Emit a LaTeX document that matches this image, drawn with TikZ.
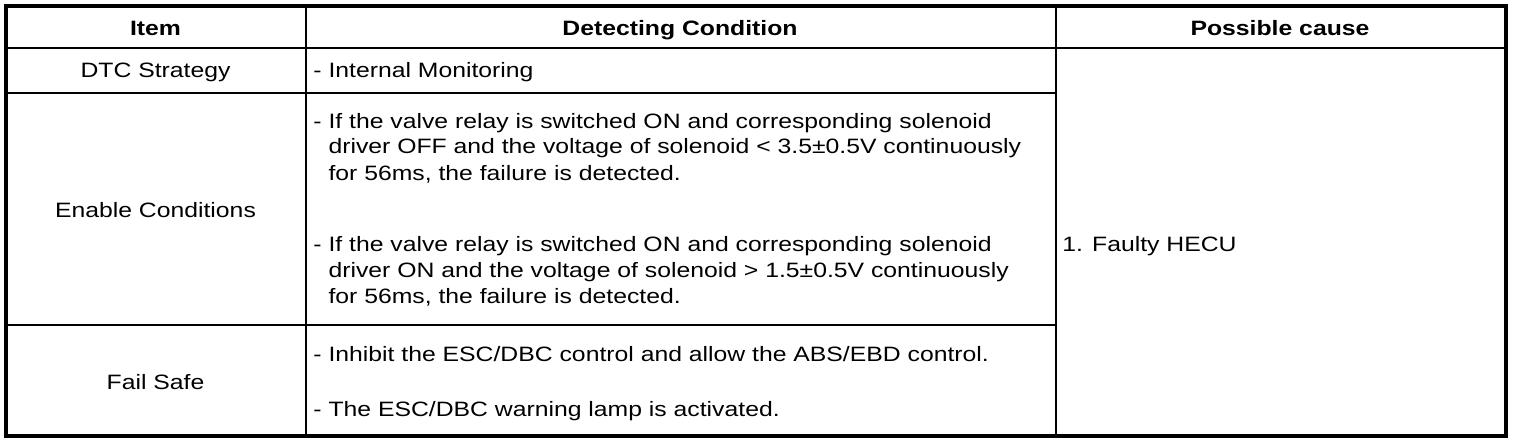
\documentclass[tikz,border=0pt]{standalone}
\usepackage{fontspec}
\setmainfont[FakeStretch=1.19]{Liberation Sans}
\newcommand{\tabfont}{\fontsize{10.4}{13}\selectfont}
\newcommand{\dashlines}[1]{-\ \begin{tabular}[t]{@{}l@{}}#1\end{tabular}}
\tikzstyle{head} = [anchor=base, font=\tabfont\bfseries]
\tikzstyle{item} = [anchor=base, font=\tabfont]
\tikzstyle{cond} = [anchor=base west, inner sep=0pt, font=\tabfont]
\tikzstyle{frame} = [line width=2pt]
\tikzstyle{rule} = [line width=1pt]
\begin{document}
\begin{tikzpicture}[x=0.5pt, y=-0.5pt]
    \useasboundingbox (0,0) rectangle (1520,444);
    % grid
    \draw [frame] (6,6) rectangle (1506,436);
    \draw [rule] (305.5,6) -- (305.5,436);
    \draw [rule] (1055.5,6) -- (1055.5,436);
    \draw [rule] (6,48) -- (1506,48);
    \draw [rule] (6,93) -- (1055.5,93);
    \draw [rule] (6,325) -- (1055.5,325);
    % header
    \node [head] at (155.5,36) (hitem) {Item};
    \node [head] at (680,36) (hcond) {Detecting Condition};
    \node [head] at (1280,36) (hcause) {Possible cause};
    % rows
    \node [item] at (155.5,77.5) (strategy) {DTC Strategy};
    \node [cond] at (313,77.5) (monitor) {- Internal Monitoring};
    \node [item] at (155.5,217) (enable) {Enable Conditions};
    \node [cond] at (313,128) (off) {\dashlines{If the valve relay is switched ON and corresponding solenoid\\driver OFF and the voltage of solenoid < 3.5±0.5V continuously\\for 56ms, the failure is detected.}};
    \node [cond] at (313,251) (on) {\dashlines{If the valve relay is switched ON and corresponding solenoid\\driver ON and the voltage of solenoid > 1.5±0.5V continuously\\for 56ms, the failure is detected.}};
    \node [item] at (155.5,389) (failsafe) {Fail Safe};
    \node [cond] at (313,361) (inhibit) {- Inhibit the ESC/DBC control and allow the ABS/EBD control.};
    \node [cond] at (313,416) (lamp) {- The ESC/DBC warning lamp is activated.};
    \node [cond] at (1062,251) (cause) {1. Faulty HECU};
\end{tikzpicture}
\end{document}
